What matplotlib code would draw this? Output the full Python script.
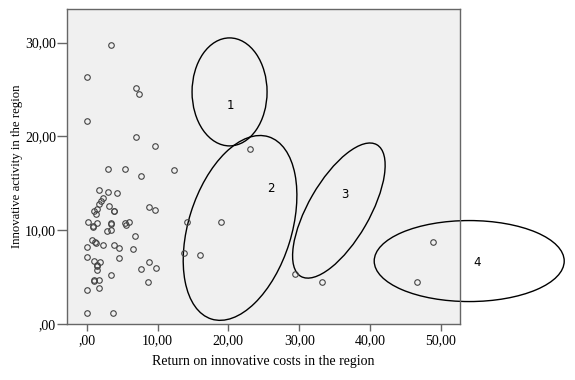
import matplotlib
matplotlib.use("Agg")
import matplotlib.pyplot as plt
from matplotlib.patches import Ellipse
from matplotlib.transforms import ScaledTranslation
from matplotlib.ticker import FuncFormatter, MultipleLocator

# return on innovative costs (x) and innovative activity (y), one value per region
return_costs = [3.4, 0.1, 6.9, 7.4, 0.0, 7.0, 9.7, 23.1, 3.0, 5.4, 12.3, 7.6,
                1.7, 3.0, 4.3, 2.3, 2.0, 1.7, 3.2, 1.5, 1.1, 3.8, 3.8, 1.3,
                8.8, 9.7, 0.2, 1.4, 0.9, 0.95, 3.4, 3.4, 5.4, 6.0, 5.5, 14.2,
                18.9, 2.8, 3.5, 6.8, 0.7, 1.2, 1.25, 0.0, 2.3, 3.8, 4.6, 6.5,
                13.8, 16.0, 0.1, 1.0, 1.9, 1.4, 1.5, 1.5, 4.6, 8.8, 9.8, 7.7,
                3.4, 1.1, 1.0, 1.8, 8.6, 1.8, 0.0, 0.0, 3.7, 29.4, 33.2, 48.9,
                46.6]
activity = [29.7, 26.3, 25.2, 24.5, 21.6, 19.9, 19.0, 18.7, 16.5, 16.5, 16.4, 15.8,
            14.3, 14.1, 14.0, 13.4, 13.1, 12.8, 12.6, 12.3, 12.1, 12.1, 12.0, 11.7,
            12.5, 12.2, 10.9, 10.8, 10.5, 10.4, 10.8, 10.7, 10.8, 10.9, 10.6, 10.9,
            10.9, 9.9, 10.0, 9.4, 9.0, 8.7, 8.65, 8.2, 8.4, 8.4, 8.1, 8.0,
            7.6, 7.4, 7.1, 6.7, 6.6, 6.3, 6.2, 5.8, 7.0, 6.6, 6.0, 5.9,
            5.2, 4.7, 4.6, 4.7, 4.5, 3.8, 3.6, 1.2, 1.2, 5.3, 4.5, 8.8,
            4.5]

# cluster ellipses: centre in data units, size in pixels, tilt in degrees
cluster_names = ["1", "2", "3", "4"]
cluster_cx = [20.17, 21.65, 35.6, 54.0]
cluster_cy = [24.74, 10.25, 12.1, 6.72]
cluster_w = [75, 191, 152, 190]
cluster_h = [108, 103, 61, 81]
cluster_angle = [0, 72.6, 60, 0]
label_x = [20.25, 26.0, 36.5, 55.1]
label_y = [23.3, 14.4, 13.8, 6.6]


def comma_fmt(v, pos):
    s = "%.2f" % v
    s = s.replace(".", ",")
    if s.startswith("0,"):
        s = s[1:]
    return s


fig = plt.figure(figsize=(5.75, 3.8), dpi=100)
ax = fig.add_axes([0.1165, 0.147, 0.6835, 0.83])
ax.set_facecolor("#f0f0f0")

ax.plot(return_costs, activity, linestyle="none", marker="o", ms=4,
        mfc="none", mec="#444444", mew=0.8)

ax.set_xlim(-2.78, 52.7)
ax.set_ylim(0, 33.6)
ax.xaxis.set_major_locator(MultipleLocator(10))
ax.yaxis.set_major_locator(MultipleLocator(10))
ax.xaxis.set_major_formatter(FuncFormatter(comma_fmt))
ax.yaxis.set_major_formatter(FuncFormatter(comma_fmt))

for sp in ax.spines.values():
    sp.set_color("#666666")
    sp.set_linewidth(1)
ax.tick_params(axis="both", colors="#666666", labelcolor="black",
               labelsize=10, width=1, direction="out", pad=2)
ax.tick_params(axis="y", length=7, pad=1)
ax.tick_params(axis="x", length=5)
for lab in ax.get_xticklabels() + ax.get_yticklabels():
    lab.set_fontfamily("Liberation Serif")

ax.set_xlabel("Return on innovative costs in the region",
              fontfamily="Liberation Serif", fontsize=10, labelpad=6)
ax.set_ylabel("Innovative activity in the region",
              fontfamily="Liberation Serif", fontsize=9.2, labelpad=1)

for i in range(len(cluster_names)):
    tr = fig.dpi_scale_trans + ScaledTranslation(cluster_cx[i], cluster_cy[i], ax.transData)
    e = Ellipse((0, 0), cluster_w[i] / 100, cluster_h[i] / 100,
                angle=cluster_angle[i], transform=tr, fill=False,
                edgecolor="black", lw=1, clip_on=False)
    ax.add_patch(e)
    ax.text(label_x[i], label_y[i], cluster_names[i], fontsize=8.5,
            ha="center", va="center", clip_on=False)

fig.savefig("out.png", dpi=100)
